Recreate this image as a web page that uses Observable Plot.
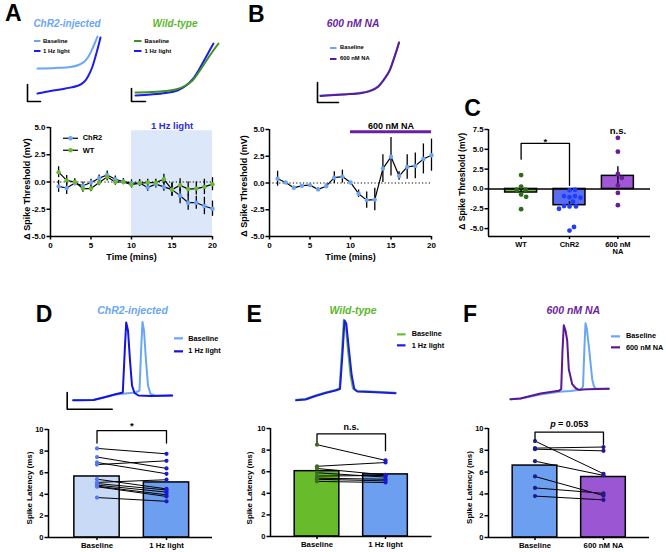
<!DOCTYPE html>
<html><head><meta charset="utf-8">
<script src="https://cdn.jsdelivr.net/npm/d3@7"></script>
<script src="https://cdn.jsdelivr.net/npm/@observablehq/plot@0.6"></script>
<style>
html,body{margin:0;padding:0;background:#fff;}
#fig{position:relative;width:666px;height:552px;overflow:hidden;background:#fff;font-family:"Liberation Sans",Arial,Helvetica,sans-serif;color:#000;}
.lbl{position:absolute;white-space:nowrap;line-height:1;transform:translate(-50%,-50%);font-weight:bold;}
</style></head><body><div id="fig"></div>
<script>
// ---------------- DATA ----------------
// Panel A / B time course (minutes)
const minutes = [1,2,3,4,5,6,7,8,9,10,11,12,13,14,15,16,17,18,19,20];
const chr2Mean = [-0.4,-0.55,-0.1,-0.35,-0.05,0.35,0.65,0.25,0.05,-0.1,-0.1,-0.5,-0.2,-0.45,-0.7,-1.25,-1.9,-1.9,-2.2,-2.45];
const chr2Sem  = [0.55,0.6,0.25,0.35,0.3,0.3,0.35,0.3,0.25,0.3,0.3,0.35,0.35,0.4,0.6,0.75,0.7,0.6,0.8,0.7];
const wtMean   = [0.9,0.15,0.0,-0.6,-0.6,-0.05,0.45,0.0,0.0,-0.25,-0.1,-0.05,-0.05,0.25,-0.7,-0.3,-0.65,-0.6,-0.45,-0.2];
const wtSem    = [0.5,0.45,0.3,0.35,0.3,0.3,0.35,0.3,0.25,0.3,0.3,0.3,0.3,0.45,0.6,0.6,0.65,0.6,0.7,0.6];
const naMean   = [0.4,0.05,-0.45,-0.25,-0.2,-0.6,-0.3,0.5,0.6,0.05,-1.0,-1.6,-1.55,1.35,2.45,0.65,1.5,1.6,2.25,2.6];
const naSem    = [0.7,0.1,0.15,0.1,0.15,0.15,0.2,0.55,0.6,0.1,0.35,0.75,1.05,1.3,1.8,0.4,1.15,1.2,1.4,1.5];
const thresholdTicks = [-5,-2.5,0,2.5,5];
const timeTicks = [0,5,10,15,20];
const lightPeriod = [{start:10, end:20, top:4.7, label:"1 Hz light"}];
const drugPeriod  = [{start:10, end:20, level:4.8, label:"600 nM NA"}];

// Panel C
const cGroups = ["WT","ChR2","600 nM NA"];
const cTickLabels = ["WT","ChR2","600 nM\nNA"];
const cMeans = [-0.45,-2.05,1.65];
const cSem = [0.5,0.45,1.15];
const cWtPoints   = [1.75,0.3,-0.1,-0.1,-0.7,-1.0,-2.55];
const cChr2Points = [-0.15,-0.1,-1.05,-0.9,-0.9,-1.1,-1.6,-2.2,-2.15,-2.2,-2.5,-5.25,-4.8];
const cNaPoints   = [6.45,4.7,1.9,1.4,0.45,-0.5,-2.05];
const cTicks = [-5,-2.5,0,2.5,5,7.5];
const cBracket = [{from:0, to:1, top:5.76, leftEnd:3.75, rightEnd:0.45, label:"*"}];
const cNs = [{group:2, level:7.3, label:"n.s."}];

// Panels D-F spike latency (ms), paired
const latencyTicks = [0,2,4,6,8,10];
const dTicks = ["Baseline","1 Hz light"];
const dBase  = [8.25,7.45,6.95,6.75,5.4,5.1,5.0,4.85,4.75,4.7,3.7];
const dLight = [7.75,6.4,5.9,7.1,4.5,5.35,4.4,4.2,3.95,3.8,3.35];
const dMeans = [5.65,5.1];
const dBracket = [{top:9.9, leftEnd:8.75, rightEnd:8.75, label:"*"}];
const eTicks = ["Baseline","1 Hz light"];
const eBase  = [8.5,6.5,6.3,5.9,5.6,5.4,5.3,5.1];
const eLight = [7.05,6.85,5.7,5.5,5.65,5.3,5.15,5.0];
const eMeans = [6.05,5.75];
const eBracket = [{top:9.5, leftEnd:8.7, rightEnd:7.95, label:"n.s."}];
const fTicks = ["Baseline","600 nM NA"];
const fBase = [8.85,8.2,8.1,7.0,5.6,4.55,3.8];
const fNA   = [5.85,8.3,7.95,5.7,3.85,4.05,3.45];
const fMeans = [6.6,5.55];
const fBracket = [{top:9.67, leftEnd:9.0, rightEnd:8.55, label:"= 0.053"}];

// Example voltage traces, samples (time, voltage) in trace-box units
const a1Baseline = [[37,68],[55,67.5],[70,66.5],[78,64.5],[84,61],[88,56],[92,48],[95,41],[97,36]];
const a1Light    = [[37,93],[50,90.5],[65,88],[78,85],[84,81],[88,75],[92,66],[95,56],[98,45],[100,37]];
const a1Scale    = [[27,84],[27,101],[40,101]];
const a2Baseline = [[135,92],[150,91.5],[165,90.5],[177,88.5],[185,85],[192,80],[198,72],[204,63],[210,54],[215,47],[218,43]];
const a2Light    = [[135,95],[150,94],[165,92.5],[177,90],[185,85.5],[192,79],[198,70],[203,61],[208,52],[213,43]];
const a2Scale    = [[131,88],[131,101],[145,101]];
const bBaseline  = [[320,95],[345,93.5],[360,92.3],[370,90],[378,85.5],[384,78],[389,70],[393,59],[396,50],[398.3,42]];
const bDrug      = [[320,95.4],[345,93.9],[360,92.7],[370,90.4],[378,85.9],[384,78.4],[389,70.4],[393,59.4],[396,50.4],[398.6,42]];
const bScale     = [[317,82],[317,102],[338,102]];
const dTraceBase  = [[72.7,399.7],[93,399.5],[105,396.5],[115,394],[125,393],[135,392],[139,390],[140.8,345],[142,321.5],[143.5,330],[145.5,360],[147.5,385],[150,393.5],[155,395.3],[171.7,395]];
const dTraceLight = [[72.7,399.7],[93,399.5],[105,396.5],[115,393.8],[122.3,392],[124.5,345],[125.7,322],[127.5,330],[129.5,360],[131.5,385],[134,392.5],[138,395],[150,395.5],[171.7,395]];
const dScale = [[66.7,392],[66.7,408.7],[111.7,408.7]];
const eTraceBase  = [[295.7,399.3],[305,398.5],[315,395],[325,392],[335,389.5],[339,388],[341.5,350],[343.3,319.3],[345,322],[347,345],[350,375],[352.5,388],[356,390.5],[370,391],[395,392.3]];
const eTraceLight = [[295.7,399.8],[305,399],[315,395.5],[325,392.5],[335,390],[339.5,388.5],[342.2,350],[344,320],[345.8,323],[348,345],[351.2,375],[353.8,388.5],[357,391],[370,391.5],[395,392.8]];
const fTraceBase = [[510,398.7],[520,398],[540,394],[558.3,391.3],[570,390.5],[580,389.3],[582.5,386],[584,345],[585,322.7],[586.3,328],[588.3,345.3],[590,362],[591.7,378.7],[593.5,386],[595,388],[608.3,388.3]];
const fTraceNA   = [[510,398.7],[520,398],[540,393],[558.3,390.3],[560.7,388.7],[562,350],[563.3,324.7],[565,330],[566.7,340],[568.3,368.7],[571.7,383.7],[575,387.5],[578.3,389.3],[586.7,388.7],[608.3,388.3]];

// ---------------- STYLE ----------------
const FONT = '"Liberation Sans", Arial, Helvetica, sans-serif';
const lightBlue = "#6aa6f8", darkBlue = "#1d1deb", green = "#5cb82a", purple = "#6a1fa0";
const fig = document.getElementById("fig");

function put(node, left, top) {
  node.style.position = "absolute";
  node.style.left = left + "px";
  node.style.top = top + "px";
  fig.appendChild(node);
  return node;
}
function label(text, cx, cy, size, color = "#000", italic = false) {
  const d = document.createElement("div");
  d.className = "lbl";
  d.textContent = text;
  d.style.left = cx + "px"; d.style.top = cy + "px";
  d.style.fontSize = size + "px"; d.style.color = color;
  if (italic) d.style.fontStyle = "italic";
  fig.appendChild(d);
}
function legend(items, x, rows, {w, size, thick = 2, gap = 3}) {
  const ns = "http://www.w3.org/2000/svg";
  items.forEach((it, i) => {
    const row = document.createElement("div");
    row.style.cssText = `position:absolute;left:${x}px;top:${rows[i]}px;transform:translateY(-50%);display:flex;align-items:center;white-space:nowrap;font-weight:bold;font-size:${size}px;line-height:1;`;
    const s = document.createElementNS(ns, "svg");
    s.setAttribute("width", w); s.setAttribute("height", 6);
    s.style.display = "block"; s.style.marginRight = gap + "px"; s.style.overflow = "visible";
    const ln = document.createElementNS(ns, "line");
    ln.setAttribute("x1", 0); ln.setAttribute("x2", w); ln.setAttribute("y1", 3); ln.setAttribute("y2", 3);
    ln.setAttribute("stroke", it.line); ln.setAttribute("stroke-width", thick);
    s.appendChild(ln);
    if (it.dot) {
      const c = document.createElementNS(ns, "circle");
      c.setAttribute("cx", w / 2); c.setAttribute("cy", 3); c.setAttribute("r", 2.2); c.setAttribute("fill", it.dot);
      s.appendChild(c);
    }
    const sp = document.createElement("span"); sp.textContent = it.label;
    row.append(s, sp);
    fig.appendChild(row);
  });
}
const baseStyle = (size) => ({fontFamily: FONT, fontSize: size + "px", fontWeight: "bold", background: "transparent", overflow: "visible", color: "#000"});
const yTitle = (text, dx, dy, size) => Plot.text([text], {text: d => d, frameAnchor: "left", textAnchor: "middle", lineAnchor: "middle", rotate: -90, dx, dy, fontSize: size, fontWeight: "bold"});
const xTitle = (text, dy, size) => Plot.text([text], {text: d => d, frameAnchor: "bottom", textAnchor: "middle", lineAnchor: "middle", dy, fontSize: size, fontWeight: "bold"});

// ---------------- TRACE PLOTS ----------------
function tracePlot(L, T, W, H, series, scaleBar) {
  const marks = series.map(s => Plot.line(s.data, {x: d => d[0], y: d => d[1], stroke: s.color, strokeWidth: s.width || 2, strokeLinejoin: "round", curve: s.curve || "linear"}));
  if (scaleBar) marks.push(Plot.line(scaleBar, {x: d => d[0], y: d => d[1], stroke: "#000", strokeWidth: 1.6}));
  const p = Plot.plot({
    width: W, height: H, margin: 0,
    x: {domain: [L, L + W], axis: null},
    y: {domain: [T + H, T], axis: null},
    style: baseStyle(8),
    marks
  });
  put(p, L, T);
}
tracePlot(20, 30, 90, 75, [{data: a1Baseline, color: lightBlue, curve: "catmull-rom"}, {data: a1Light, color: darkBlue, curve: "catmull-rom"}], a1Scale);
tracePlot(125, 35, 100, 70, [{data: a2Light, color: darkBlue, curve: "catmull-rom"}, {data: a2Baseline, color: "#3f8f23", curve: "catmull-rom"}], a2Scale);
tracePlot(310, 35, 95, 72, [{data: bBaseline, color: lightBlue, curve: "catmull-rom"}, {data: bDrug, color: "#5b1a98", curve: "catmull-rom"}], bScale);
tracePlot(60, 315, 120, 100, [{data: dTraceBase, color: lightBlue}, {data: dTraceLight, color: "#1414e0"}], dScale);
tracePlot(290, 312, 110, 92, [{data: eTraceBase, color: "#66c02e"}, {data: eTraceLight, color: "#1a1aee"}], null);
tracePlot(505, 315, 110, 90, [{data: fTraceBase, color: lightBlue}, {data: fTraceNA, color: "#5b1796"}], null);

// ---------------- TIME COURSE (A, B) ----------------
function timeCourse({left, top, width, height, mL, mR, mT, mB, series, extra, yTitleDx, yTitleDy, xTitleDy}) {
  const p = Plot.plot({
    width, height, marginLeft: mL, marginRight: mR, marginTop: mT, marginBottom: mB,
    x: {domain: [0, 20]}, y: {domain: [-5, 5]},
    style: baseStyle(8),
    marks: [
      ...extra,
      Plot.ruleY([0], {strokeDasharray: "1.2,2.2", strokeWidth: 1}),
      ...series.flatMap(s => [
        Plot.ruleX(s.data, {x: "t", y1: d => d.m - d.e, y2: d => d.m + d.e, stroke: "#000", strokeWidth: 1.3}),
        Plot.line(s.data, {x: "t", y: "m", stroke: "#000", strokeWidth: 1.2})
      ]),
      ...series.map(s => Plot.dot(s.data, {x: "t", y: "m", r: 2.2, fill: s.color})),
      Plot.ruleX([0], {strokeWidth: 1.5}),
      Plot.ruleY([-5], {strokeWidth: 1.5}),
      Plot.axisY({ticks: thresholdTicks, tickFormat: d => d.toFixed(1), tickSize: 3.5, tickPadding: 1.5, strokeWidth: 1.5, label: null}),
      Plot.axisX({ticks: timeTicks, tickSize: 3.5, tickPadding: 2, strokeWidth: 1.5, label: null}),
      xTitle("Time (mins)", xTitleDy, 9),
      yTitle("\u0394 Spike Threshold (mV)", yTitleDx, yTitleDy, 9)
    ]
  });
  put(p, left, top);
}
const aChr2 = minutes.map((t, i) => ({t, m: chr2Mean[i], e: chr2Sem[i]}));
const aWt = minutes.map((t, i) => ({t, m: wtMean[i], e: wtSem[i]}));
const bNa = minutes.map((t, i) => ({t, m: naMean[i], e: naSem[i]}));
timeCourse({
  left: 0, top: 115, width: 230, height: 160, mL: 50, mR: 18, mT: 12, mB: 39,
  series: [{data: aChr2, color: lightBlue}, {data: aWt, color: "#66bb2e"}],
  extra: [
    Plot.rect(lightPeriod, {x1: "start", x2: "end", y1: -5, y2: "top", fill: "#dce7f9"}),
    Plot.text(lightPeriod, {x: d => (d.start + d.end) / 2, y: 5, text: "label", dy: -2, fill: "#2b2be0", fontSize: 9.5, fontWeight: "bold"})
  ],
  yTitleDx: -23.3, yTitleDy: 7, xTitleDy: 21
});
timeCourse({
  left: 230, top: 115, width: 220, height: 160, mL: 39, mR: 19, mT: 14, mB: 39,
  series: [{data: bNa, color: lightBlue}],
  extra: [
    Plot.ruleY(drugPeriod, {x1: "start", x2: "end", y: "level", stroke: purple, strokeWidth: 3}),
    Plot.text(drugPeriod, {x: d => (d.start + d.end) / 2, y: "level", text: "label", dy: -6, fontSize: 9, fontWeight: "bold"})
  ],
  yTitleDx: -25.7, yTitleDy: 3, xTitleDy: 20.7
});

// ---------------- PANEL C ----------------
(function () {
  const W = 216, H = 155, mL = 38, mR = 16, mT = 14, mB = 34;
  const xDom = [-0.674, 2.674], yDom = [-6, 7.5];
  const pxX = (W - mL - mR) / (xDom[1] - xDom[0]);
  const pxY = (H - mT - mB) / (yDom[1] - yDom[0]);
  const half = 0.33, r = 2.4;
  function dodge(values) {
    const placed = [];
    return values.map(v => {
      const yp = v * pxY;
      let off = 0;
      for (let k = 0; k < 400; k++) {
        const c = (k % 2 === 1 ? 1 : -1) * Math.ceil(k / 2) * 0.5;
        if (placed.every(p => (p.x - c) ** 2 + (p.y - yp) ** 2 >= (2 * r + 0.6) ** 2)) { off = c; break; }
      }
      placed.push({x: off, y: yp});
      return off / pxX;
    });
  }
  const barFill = ["#6cc03c", "#5a6cf2", "#a258d6"];
  const dotFill = ["#2e6b1a", "#1f3cff", "#6b1c9c"];
  const groups = cGroups.map((g, i) => ({i, group: g, mean: cMeans[i], sem: cSem[i]}));
  const pts = [cWtPoints, cChr2Points, cNaPoints].map((vals, i) => {
    const offs = dodge(vals);
    return vals.map((v, j) => ({x: i + offs[j], v}));
  });
  const br = cBracket[0];
  const bracketPath = [{x: br.from, y: br.leftEnd}, {x: br.from, y: br.top}, {x: br.to, y: br.top}, {x: br.to, y: br.rightEnd}];
  const p = Plot.plot({
    width: W, height: H, marginLeft: mL, marginRight: mR, marginTop: mT, marginBottom: mB,
    x: {domain: xDom}, y: {domain: yDom},
    style: baseStyle(7.8),
    marks: [
      ...groups.map(g => Plot.rect([g], {x1: d => d.i - half, x2: d => d.i + half, y1: 0, y2: "mean", fill: barFill[g.i], stroke: "#000", strokeWidth: 1.5})),
      Plot.ruleY([0], {strokeWidth: 1.5}),
      Plot.ruleX(groups, {x: "i", y1: d => d.mean - d.sem, y2: d => d.mean + d.sem, strokeWidth: 1.4}),
      ...pts.map((arr, i) => Plot.dot(arr, {x: "x", y: "v", r, fill: dotFill[i]})),
      Plot.line(bracketPath, {x: "x", y: "y", stroke: "#000", strokeWidth: 1.3}),
      Plot.text(cBracket, {x: d => (d.from + d.to) / 2, y: "top", text: "label", dy: -1, fontSize: 9.5, fontWeight: "bold"}),
      Plot.text(cNs, {x: "group", y: "level", text: "label", fontSize: 9.5, fontWeight: "bold"}),
      Plot.ruleX([xDom[0]], {strokeWidth: 1.5}),
      Plot.ruleY([yDom[0]], {strokeWidth: 1.5}),
      Plot.axisY({ticks: cTicks, tickFormat: d => d.toFixed(1), tickSize: 3.5, tickPadding: 1.5, strokeWidth: 1.5, label: null}),
      Plot.axisX({ticks: [0, 1, 2], tickFormat: i => cTickLabels[i], tickSize: 3, tickPadding: 2, strokeWidth: 1.5, label: null, fontSize: 7.5}),
      yTitle("\u0394 Spike Threshold (mV)", -26.3, -1.7, 8.6)
    ]
  });
  put(p, 450, 115);
})();

// ---------------- PANELS D, E, F ----------------
function paired({left, W, H, mL, mR, mT, mB, xDom, base, treat, means, ticks, barFill, dotFill, bracket, extraText, yTitleDx, yTitleDy}) {
  const half = 0.326;
  const pairs = base.map((b, i) => ({b, t: treat[i]}));
  const bars = means.map((m, i) => ({i, m}));
  const br = bracket[0];
  const path = [{x: 0, y: br.leftEnd}, {x: 0, y: br.top}, {x: 1, y: br.top}, {x: 1, y: br.rightEnd}];
  const p = Plot.plot({
    width: W, height: H, marginLeft: mL, marginRight: mR, marginTop: mT, marginBottom: mB,
    x: {domain: xDom}, y: {domain: [0, 10]},
    style: baseStyle(7.5),
    marks: [
      ...bars.map(b => Plot.rect([b], {x1: d => d.i - half, x2: d => d.i + half, y1: 0, y2: "m", fill: barFill[b.i], stroke: "#000", strokeWidth: 1.5})),
      Plot.link(pairs, {x1: 0, x2: 1, y1: "b", y2: "t", stroke: "#000", strokeWidth: 1}),
      Plot.dot(pairs, {x: 0, y: "b", r: 2.1, fill: dotFill[0]}),
      Plot.dot(pairs, {x: 1, y: "t", r: 2.1, fill: dotFill[1]}),
      Plot.line(path, {x: "x", y: "y", stroke: "#000", strokeWidth: 1.3}),
      ...extraText,
      Plot.ruleX([xDom[0]], {strokeWidth: 1.5}),
      Plot.ruleY([0], {strokeWidth: 1.5}),
      Plot.axisY({ticks: latencyTicks, tickSize: 3.5, tickPadding: 1.5, strokeWidth: 1.5, label: null}),
      Plot.axisX({ticks: [0, 1], tickFormat: i => ticks[i], tickSize: 3, tickPadding: 1.5, strokeWidth: 1.5, label: null, fontSize: 7.8}),
      yTitle("Spike Latency (ms)", yTitleDx, yTitleDy, 8)
    ]
  });
  put(p, left, 415);
}
paired({left: 0, W: 230, H: 137, mL: 48, mR: 18, mT: 14, mB: 15, xDom: [-0.698, 1.662],
  base: dBase, treat: dLight, means: dMeans, ticks: dTicks,
  barFill: ["#c8daf6", "#6d9ff0"], dotFill: ["#5577f0", "#1a1ad0"], bracket: dBracket,
  extraText: [Plot.text(dBracket, {x: 0.5, y: "top", text: "label", dy: -5, fontSize: 9.5, fontWeight: "bold"})],
  yTitleDx: -19.5, yTitleDy: 4.5});
paired({left: 230, W: 220, H: 137, mL: 40, mR: 18.5, mT: 13, mB: 16, xDom: [-0.679, 1.679],
  base: eBase, treat: eLight, means: eMeans, ticks: eTicks,
  barFill: ["#68bc2c", "#6d9ff0"], dotFill: ["#3a6e22", "#1a1ad0"], bracket: eBracket,
  extraText: [Plot.text(eBracket, {x: 0.5, y: "top", text: "label", dy: -7, fontSize: 9, fontWeight: "bold"})],
  yTitleDx: -21, yTitleDy: 5.5});
paired({left: 450, W: 216, H: 137, mL: 38, mR: 17, mT: 13, mB: 15, xDom: [-0.679, 1.672],
  base: fBase, treat: fNA, means: fMeans, ticks: fTicks,
  barFill: ["#6d9ff0", "#9b57d3"], dotFill: ["#1c1c8c", "#24188a"], bracket: fBracket,
  extraText: [
    Plot.text(fBracket, {x: 0.5, y: "top", text: () => "p", dx: -13.6, dy: -7.5, textAnchor: "end", fontSize: 9, fontWeight: "bold", fontStyle: "italic"}),
    Plot.text(fBracket, {x: 0.5, y: "top", text: "label", dx: -11.2, dy: -7.5, textAnchor: "start", fontSize: 9, fontWeight: "bold"})
  ],
  yTitleDx: -19, yTitleDy: 4.5});

// ---------------- LABELS, TITLES, LEGENDS ----------------
label("A", 13.4, 13, 23); label("B", 256.3, 13.6, 23); label("C", 472.5, 107.7, 23);
label("D", 44, 314, 23); label("E", 254.2, 314, 23); label("F", 470, 314, 23);
label("ChR2-injected", 67, 24, 10, lightBlue, true);
label("Wild-type", 175, 24, 10, green, true);
label("600 nM NA", 353, 24, 10.3, purple, true);
label("ChR2-injected", 132.5, 310, 10.5, lightBlue, true);
label("Wild-type", 353, 310, 10.5, green, true);
label("600 nM NA", 573.3, 309.5, 10.5, purple, true);
legend([{label: "Baseline", line: lightBlue}, {label: "1 Hz light", line: darkBlue}], 33.5, [41, 51], {w: 6.5, size: 6, thick: 2, gap: 3});
legend([{label: "Baseline", line: "#3f8f23"}, {label: "1 Hz light", line: darkBlue}], 134, [41, 50.5], {w: 7.5, size: 6, thick: 2, gap: 3});
legend([{label: "Baseline", line: lightBlue}, {label: "600 nM NA", line: "#5b1a98"}], 329.5, [47.7, 59.3], {w: 6.5, size: 5.8, thick: 2, gap: 4});
legend([{label: "ChR2", line: "#000", dot: lightBlue}, {label: "WT", line: "#000", dot: "#66bb2e"}], 63.3, [138.3, 150.7], {w: 15, size: 7.5, thick: 1.2, gap: 4.4});
legend([{label: "Baseline", line: lightBlue}, {label: "1 Hz light", line: "#1414e0"}], 174.3, [338.7, 351.3], {w: 9, size: 7.3, thick: 2.2, gap: 5});
legend([{label: "Baseline", line: "#66c02e"}, {label: "1 Hz light", line: "#1a1aee"}], 396.7, [334, 345.7], {w: 8.5, size: 7.3, thick: 2.2, gap: 6.5});
legend([{label: "Baseline", line: lightBlue}, {label: "600 nM NA", line: "#5b1796"}], 611, [336, 347.7], {w: 9, size: 7.3, thick: 2.2, gap: 6});
</script></body></html>
